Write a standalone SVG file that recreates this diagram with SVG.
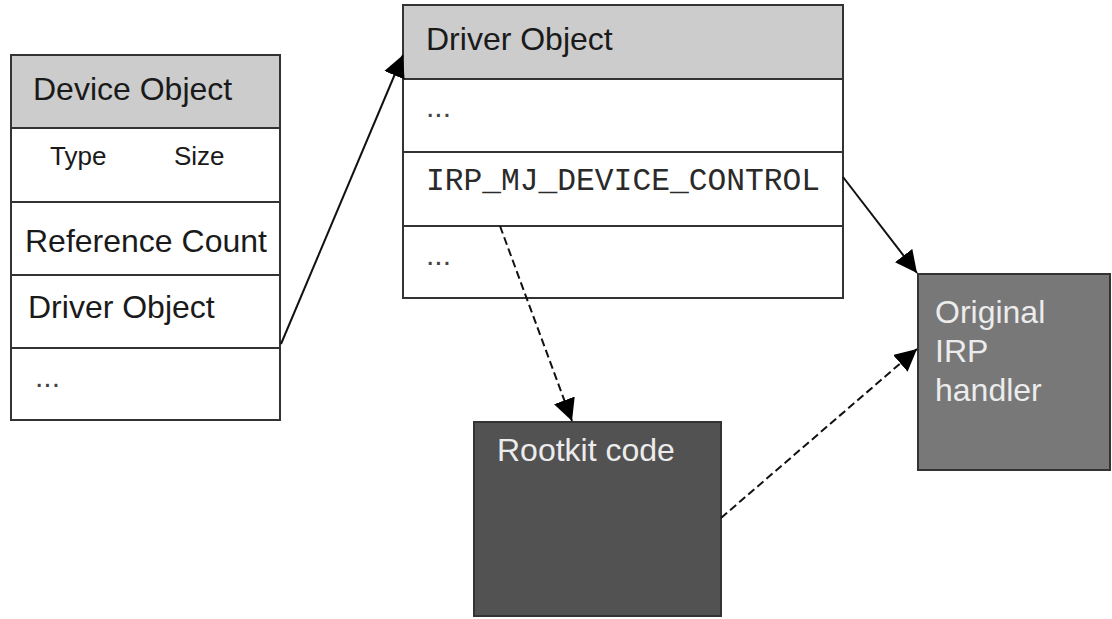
<svg xmlns="http://www.w3.org/2000/svg" width="1112" height="619" viewBox="0 0 1112 619">
  <style>
    .box { stroke: #333333; stroke-width: 2; }
    .row { fill: #ffffff; }
    .head { fill: #cccccc; }
    .sep { stroke: #333333; stroke-width: 2; }
    .lbl { font-family: "Liberation Sans", Arial, sans-serif; font-size: 32px; fill: #1a1a1a; }
    .small { font-size: 26px; }
    .dots { font-size: 30px; fill: #444444; }
    .mono { font-family: "Liberation Mono", "Courier New", monospace; font-size: 31px; fill: #2a2a2a; }
    .inv { fill: #ececec; }
    .wire { stroke: #111111; stroke-width: 2; fill: none; }
    .dash { stroke-dasharray: 8 4; }
  </style>
  <defs>
    <marker id="arrowL" viewBox="0 0 20 20" refX="20" refY="10" markerWidth="22" markerHeight="22" markerUnits="userSpaceOnUse" orient="auto">
      <path d="M0,0 L20,10 L0,20 Z" fill="#000000"/>
    </marker>
  </defs>
  <rect width="1112" height="619" fill="#ffffff"/>

  <!-- device object record -->
  <g id="device-object">
    <rect class="box row" x="11" y="55" width="269" height="365"/>
    <rect class="box head" x="11" y="55" width="269" height="73"/>
    <line class="sep" x1="11" y1="202" x2="280" y2="202"/>
    <line class="sep" x1="11" y1="275" x2="280" y2="275"/>
    <line class="sep" x1="11" y1="348" x2="280" y2="348"/>
    <text class="lbl" x="33" y="100">Device Object</text>
    <text class="lbl small" x="50" y="165">Type</text>
    <text class="lbl small" x="174" y="165">Size</text>
    <text class="lbl" x="25" y="252">Reference Count</text>
    <text class="lbl" x="28" y="318">Driver Object</text>
    <text class="lbl dots" x="35" y="387">...</text>
  </g>

  <!-- driver object record -->
  <g id="driver-object">
    <rect class="box row" x="403" y="5" width="440" height="293"/>
    <rect class="box head" x="403" y="5" width="440" height="74"/>
    <line class="sep" x1="403" y1="152" x2="843" y2="152"/>
    <line class="sep" x1="403" y1="226" x2="843" y2="226"/>
    <text class="lbl" x="426" y="50">Driver Object</text>
    <text class="lbl dots" x="426" y="117">...</text>
    <text class="mono" x="426" y="190" textLength="394" lengthAdjust="spacingAndGlyphs">IRP_MJ_DEVICE_CONTROL</text>
    <text class="lbl dots" x="426" y="265">...</text>
  </g>

  <!-- hook code -->
  <g id="rootkit-code">
    <rect class="box" x="474" y="422" width="247" height="194" fill="#525252"/>
    <text class="lbl inv" x="497" y="461">Rootkit code</text>
  </g>

  <!-- original dispatch routine -->
  <g id="original-handler">
    <rect class="box" x="918" y="274" width="192" height="196" fill="#787878"/>
    <text class="lbl inv" x="935" y="323">Original</text>
    <text class="lbl inv" x="935" y="362">IRP</text>
    <text class="lbl inv" x="935" y="401">handler</text>
  </g>

  <!-- connectors -->
  <g id="connectors">
    <line class="wire" x1="281" y1="344" x2="403" y2="55" marker-end="url(#arrowL)"/>
    <line class="wire" x1="843" y1="177" x2="917" y2="273" marker-end="url(#arrowL)"/>
    <line class="wire dash" x1="500" y1="226" x2="572" y2="421" marker-end="url(#arrowL)"/>
    <line class="wire dash" x1="721" y1="518" x2="917" y2="349" marker-end="url(#arrowL)"/>
  </g>
</svg>
